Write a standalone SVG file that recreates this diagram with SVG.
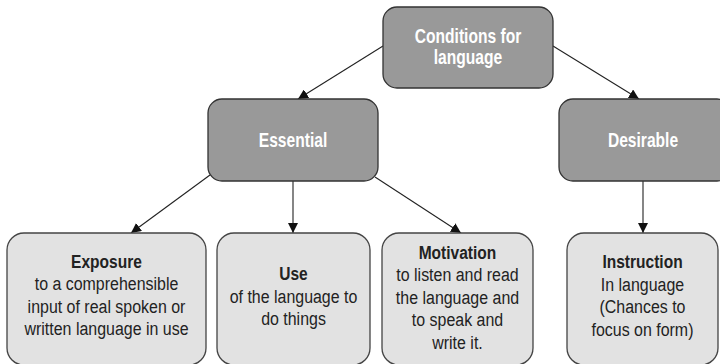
<svg xmlns="http://www.w3.org/2000/svg" width="720" height="364" viewBox="0 0 720 364">
<style>
.dark{fill:#999999;stroke:#333333;stroke-width:1.3}
.light{fill:#e2e2e2;stroke:#444444;stroke-width:1.3}
.dt{font-family:"Liberation Sans",Arial,sans-serif;font-weight:bold;font-size:20px;fill:#ffffff;text-anchor:middle}
.lb{font-family:"Liberation Sans",Arial,sans-serif;font-weight:bold;font-size:18.5px;fill:#222222;text-anchor:middle}
.lr{font-family:"Liberation Sans",Arial,sans-serif;font-size:19px;fill:#222222;text-anchor:middle}
.conn{stroke:#222222;stroke-width:1.1;fill:none;marker-end:url(#ah)}
</style>
<defs>
<marker id="ah" viewBox="0 0 10 10" refX="10" refY="5" markerWidth="10" markerHeight="10" markerUnits="userSpaceOnUse" orient="auto">
<path d="M0,0 L10,5 L0,10 z" fill="#111111"/>
</marker>
</defs>
<rect width="720" height="364" fill="#ffffff"/>
<g id="connectors">
<line class="conn" x1="383" y1="46" x2="298" y2="99"/>
<line class="conn" x1="553" y1="46" x2="639" y2="99"/>
<line class="conn" x1="210" y1="175" x2="131" y2="233"/>
<line class="conn" x1="293" y1="181" x2="293" y2="233"/>
<line class="conn" x1="375" y1="177" x2="461" y2="233"/>
<line class="conn" x1="643" y1="181" x2="643" y2="233"/>
</g>
<g id="n-conditions">
<rect class="dark" x="383" y="7" width="170" height="81" rx="14"/>
<g transform="translate(468,0) scale(0.78,1)">
<text class="dt" x="0" y="43">Conditions for</text>
<text class="dt" x="0" y="64">language</text>
</g>
</g>
<g id="n-essential">
<rect class="dark" x="208" y="99" width="170" height="82" rx="14"/>
<g transform="translate(293,0) scale(0.78,1)">
<text class="dt" x="0" y="147">Essential</text>
</g>
</g>
<g id="n-desirable">
<rect class="dark" x="559" y="99" width="172" height="82" rx="14"/>
<g transform="translate(643,0) scale(0.78,1)">
<text class="dt" x="0" y="147">Desirable</text>
</g>
</g>
<g id="n-exposure">
<rect class="light" x="7" y="233" width="199" height="132" rx="17"/>
<g transform="translate(106.5,0) scale(0.84,1)">
<text class="lb" x="0" y="268">Exposure</text>
<text class="lr" x="0" y="290">to a comprehensible</text>
<text class="lr" x="0" y="313">input of real spoken or</text>
<text class="lr" x="0" y="335">written language in use</text>
</g>
</g>
<g id="n-use">
<rect class="light" x="217" y="233" width="153" height="132" rx="17"/>
<g transform="translate(293.5,0) scale(0.84,1)">
<text class="lb" x="0" y="280">Use</text>
<text class="lr" x="0" y="303">of the language to</text>
<text class="lr" x="0" y="325">do things</text>
</g>
</g>
<g id="n-motivation">
<rect class="light" x="382" y="233" width="151" height="132" rx="17"/>
<g transform="translate(457.5,0) scale(0.84,1)">
<text class="lb" x="0" y="259">Motivation</text>
<text class="lr" x="0" y="281.5">to listen and read</text>
<text class="lr" x="0" y="304">the language and</text>
<text class="lr" x="0" y="326.5">to speak and</text>
<text class="lr" x="0" y="349">write it.</text>
</g>
</g>
<g id="n-instruction">
<rect class="light" x="567" y="233" width="151" height="132" rx="17"/>
<g transform="translate(642.5,0) scale(0.84,1)">
<text class="lb" x="0" y="268">Instruction</text>
<text class="lr" x="0" y="291">In language</text>
<text class="lr" x="0" y="313">(Chances to</text>
<text class="lr" x="0" y="336">focus on form)</text>
</g>
</g>
</svg>
